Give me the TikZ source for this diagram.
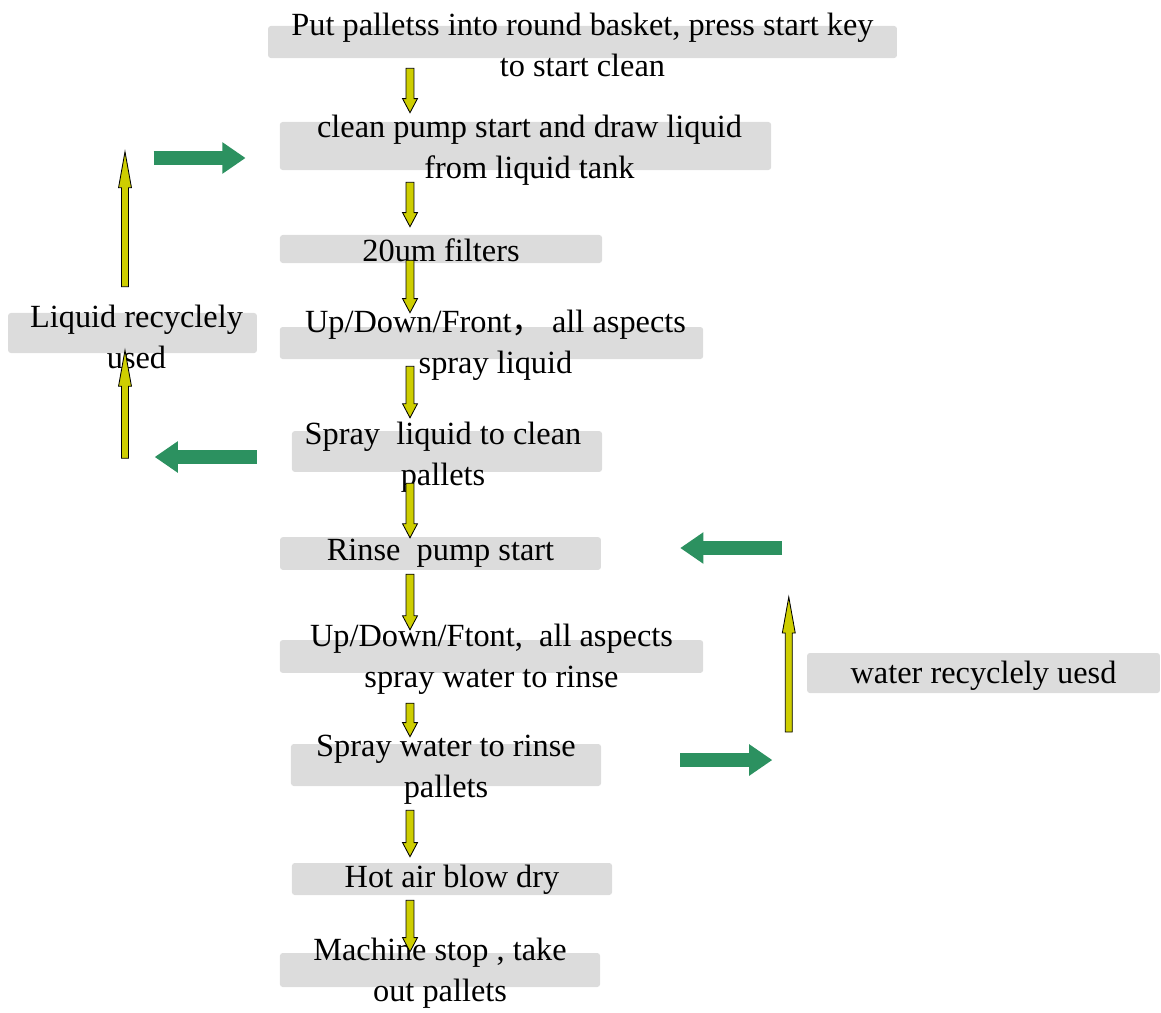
\documentclass[tikz,border=0pt]{standalone}
\usepackage{fontspec}
\setmainfont{Liberation Serif}
\newfontfamily\cjk{Noto Sans CJK SC}
\usepackage{xcolor}
\usetikzlibrary{calc,positioning,arrows.meta}
\definecolor{boxgray}{RGB}{220,220,220}
\definecolor{arrowyellow}{RGB}{206,206,0}
\definecolor{arrowgreen}{RGB}{44,145,96}
\tikzset{
  blockarrow/.style n args={3}{to path={
    let \p1=(\tikztostart), \p2=(\tikztotarget), \n1={sign(\y1-\y2)} in
    (\x1-#1,\y1) -- (\x1-#1,\y2+\n1*#3) -- (\x1-#2,\y2+\n1*#3) -- (\x2,\y2)
    -- (\x1+#2,\y2+\n1*#3) -- (\x1+#1,\y2+\n1*#3) -- (\x1+#1,\y1) -- cycle}},
  step box/.style={rectangle, rounded corners=2pt, fill=boxgray, inner sep=0pt},
  steptext/.style={font=\fontsize{23}{29}\selectfont, align=center, inner sep=0pt},
}

\begin{document}
\begin{tikzpicture}[x=0.025cm, y=-0.025cm]
    \tikzset{
        downarrow/.style={draw=black, line width=0.6pt, fill=arrowyellow, blockarrow={2.8pt}{5.3pt}{10pt}},
        uparrow/.style={draw=black, line width=0.6pt, fill=arrowyellow, blockarrow={2.5pt}{4.6pt}{25.6pt}},
        flowarrow/.style={draw=arrowgreen, line width=0.33cm, -{Triangle[length=0.58cm, width=0.75cm]}},
    }
    \useasboundingbox (0,0) rectangle (1161,1012);

    \node[step box, minimum width=15.72cm, minimum height=0.80cm] (b1) at (582.5,42) {};
    \node[step box, minimum width=12.28cm, minimum height=1.20cm] (b2) at (525.5,146) {};
    \node[step box, minimum width=8.05cm, minimum height=0.70cm] (b3) at (441,249) {};
    \node[step box, minimum width=10.58cm, minimum height=0.80cm] (b4) at (491.5,343) {};
    \node[step box, minimum width=7.75cm, minimum height=1.02cm] (b5) at (447,451.5) {};
    \node[step box, minimum width=8.02cm, minimum height=0.82cm] (b6) at (440.5,553.5) {};
    \node[step box, minimum width=10.58cm, minimum height=0.82cm] (b7) at (491.5,656.5) {};
    \node[step box, minimum width=7.75cm, minimum height=1.05cm] (b8) at (446,765) {};
    \node[step box, minimum width=8.00cm, minimum height=0.80cm] (b9) at (452,879) {};
    \node[step box, minimum width=8.00cm, minimum height=0.85cm] (b10) at (440,970) {};
    \node[step box, minimum width=6.22cm, minimum height=1.00cm] (b11) at (132.5,333) {};
    \node[step box, minimum width=8.82cm, minimum height=1.00cm] (b12) at (983.5,673) {};

    \node[steptext] (t1) at ($(b1)+(0,3)$) {Put palletss into round basket, press start key\\to start clean};
    \node[steptext] (t2) at ($(b2)+(4,4)$) {clean pump start and draw liquid\\from liquid tank};
    \node[steptext] (t3) at ($(b3)+(0,1)$) {20um filters};
    \node[steptext] (t4) at ($(b4)+(4,2)$) {Up/Down/Front{\cjk ，}\ all aspects\\spray liquid};
    \node[steptext] (t5) at ($(b5)+(-4,6)$) {Spray\ \ liquid to clean\\pallets};
    \node[steptext] (t6) at (b6) {Rinse\ \ pump start};
    \node[steptext] (t7) at ($(b7)+(0,3)$) {Up/Down/Ftont,\ \ all aspects\\spray water to rinse};
    \node[steptext] (t8) at ($(b8)+(0,5)$) {Spray water to rinse\\pallets};
    \node[steptext] (t9) at ($(b9)+(0,1)$) {Hot air blow dry};
    \node[steptext] (t10) at ($(b10)+(0,3)$) {Machine stop , take\\out pallets};
    \node[steptext] (t11) at ($(b11)+(4,4)$) {Liquid recyclely\\used};
    \node[steptext] (t12) at ($(b12)+(0,3)$) {water recyclely uesd};

    \coordinate (spine) at (410,0);
    \path[downarrow] ($(b1.south -| spine)+(0,10)$) to ($(b2.north -| spine)+(0,-9)$);
    \path[downarrow] ($(b2.south -| spine)+(0,12)$) to ($(b3.north -| spine)+(0,-8)$);
    \path[downarrow] ($(b3.south -| spine)+(0,-3)$) to ($(b4.north -| spine)+(0,-14)$);
    \path[downarrow] ($(b4.south -| spine)+(0,7)$) to ($(b5.north -| spine)+(0,-13)$);
    \path[downarrow] ($(b5.south -| spine)+(0,11)$) to ($(b6.north -| spine)+(0,1)$);
    \path[downarrow] ($(b6.south -| spine)+(0,4)$) to ($(b7.north -| spine)+(0,-10)$);
    \path[downarrow] ($(b7.south -| spine)+(0,30)$) to ($(b8.north -| spine)+(0,-7)$);
    \path[downarrow] ($(b8.south -| spine)+(0,24)$) to ($(b9.north -| spine)+(0,-6)$);
    \path[downarrow] ($(b9.south -| spine)+(0,5)$) to ($(b10.north -| spine)+(0,-1)$);

    \path[uparrow] ($(b11.south)+(-7.5,105)$) to ($(b11.south)+(-7.5,-3)$);
    \path[uparrow] ($(b11.north)+(-7.5,-26)$) to ($(b11.north)+(-7.5,-161)$);
    \path[uparrow] ($(b12.west)+(-18,59)$) to ($(b12.west)+(-18,-76)$);

    \draw[flowarrow] ($(b2.west)+(-126,12)$) -- ($(b2.west)+(-34,12)$);
    \draw[flowarrow] ($(b5.west)+(-35,5.5)$) -- ($(b5.west)+(-137,5.5)$);
    \draw[flowarrow] ($(b6.east)+(181,-5.5)$) -- ($(b6.east)+(79,-5.5)$);
    \draw[flowarrow] ($(b8.east)+(79,-5)$) -- ($(b8.east)+(171,-5)$);

\end{tikzpicture}
\end{document}
